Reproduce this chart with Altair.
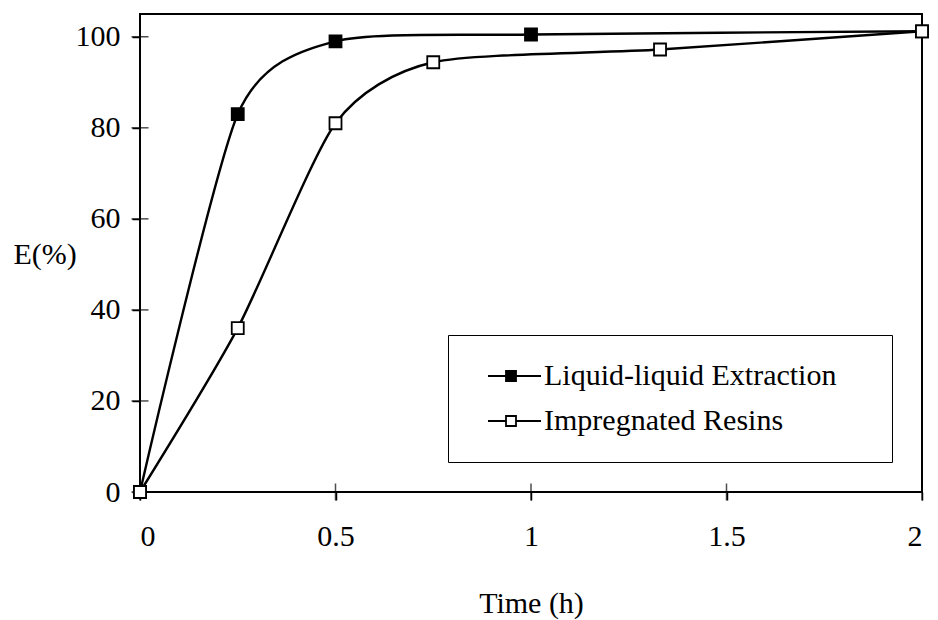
import altair as alt
import pandas as pd

FONT = "Liberation Serif"

series_names = ["Liquid-liquid Extraction", "Impregnated Resins"]
lle_time = [0, 0.25, 0.5, 1, 2]
lle_e = [0, 83, 99, 100.5, 101.2]
res_time = [0, 0.25, 0.5, 0.75, 1.33, 2]
res_e = [0, 36, 81, 94.4, 97.2, 101.2]
x_ticks = [0, 0.5, 1, 1.5, 2]
y_ticks = [0, 20, 40, 60, 80, 100]

df = pd.DataFrame({
    "time": lle_time + res_time,
    "E": lle_e + res_e,
    "series": [series_names[0]] * len(lle_time) + [series_names[1]] * len(res_time),
    "order": list(range(len(lle_time))) + list(range(len(res_time))),
})
ytick_df = pd.DataFrame({"E": y_ticks, "time": [0] * len(y_ticks)})
xtick_df = pd.DataFrame({"time": x_ticks, "E": [0] * len(x_ticks)})

x_scale = alt.Scale(domain=[0, 2], nice=False, zero=False)
y_scale = alt.Scale(domain=[0, 105], nice=False)

x_axis = alt.Axis(values=x_ticks, format="~g", title="Time (h)", grid=False, domain=False,
                  tickSize=8, tickColor="black", tickWidth=1.5, labelPadding=21,
                  titleY=120, titleBaseline="alphabetic")
y_axis = alt.Axis(values=y_ticks, title="E(%)", grid=False, domain=False,
                  tickSize=8, tickColor="black", tickWidth=1.5, labelPadding=12,
                  titleAngle=0, titleAlign="left", titleBaseline="alphabetic",
                  titleX=-127, titleY=249)

# line - square - line glyph; the trailing move-to only widens the legend box
legend_symbol = "M-4.6,0H-1M1,0H6M-1,-1H1V1H-1ZM70.2,0"

yticks = alt.Chart(ytick_df).mark_tick(orient="horizontal", size=17, thickness=1.5, color="black").encode(
    x=alt.X("time:Q", scale=x_scale, axis=x_axis),
    y=alt.Y("E:Q", scale=y_scale, axis=y_axis),
)
xticks = alt.Chart(xtick_df).mark_tick(orient="vertical", size=17, thickness=1.5, color="black").encode(
    x=alt.X("time:Q", scale=x_scale),
    y=alt.Y("E:Q", scale=y_scale),
)

lines = alt.Chart(df).mark_line(color="black", strokeWidth=2.4, interpolate="cardinal", tension=0.3).encode(
    x=alt.X("time:Q", scale=x_scale),
    y=alt.Y("E:Q", scale=y_scale),
    detail="series:N",
    order="order:Q",
)

points = alt.Chart(df).mark_square(size=144, stroke="black", strokeWidth=1.8, opacity=1).encode(
    x=alt.X("time:Q", scale=x_scale),
    y=alt.Y("E:Q", scale=y_scale),
    fill=alt.Fill(
        "series:N",
        scale=alt.Scale(domain=series_names, range=["black", "white"]),
        legend=alt.Legend(
            title=None, orient="none", legendX=308, legendY=321,
            symbolType=legend_symbol, symbolSize=100,
            symbolStrokeColor="black", symbolStrokeWidth=1.8,
            symbolOffset=22, labelOffset=18,
            labelFont=FONT, labelFontSize=30, labelColor="black", labelLimit=800,
            rowPadding=15, padding=26,
            strokeColor="black", fillColor="white",
        ),
    ),
)

chart = alt.layer(yticks, xticks, lines, points).properties(
    width=782, height=478,
    padding={"left": 132, "top": 6, "right": 8, "bottom": 128},
    autosize=alt.AutoSizeParams(type="none"),
).configure_view(
    stroke="black", strokeWidth=2
).configure_axis(
    labelFont=FONT, titleFont=FONT, labelFontSize=30, titleFontSize=30,
    labelColor="black", titleColor="black", titleFontWeight="normal",
)

chart.save("out.html", embed_options={"renderer": "svg", "actions": False})
